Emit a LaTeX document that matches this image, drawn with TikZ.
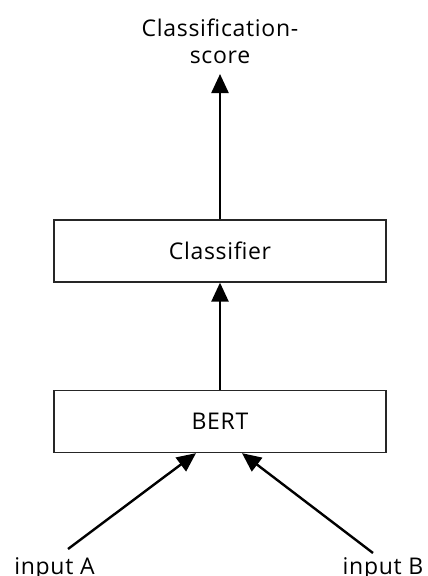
\documentclass[tikz,border=0pt]{standalone}
\usepackage{fontspec}
\setmainfont{Open Sans}[LetterSpace=3]
\usetikzlibrary{arrows.meta}
\begin{document}
\begin{tikzpicture}[x=1pt,y=-1pt,
  block/.style={draw=black!85, line width=1.3pt, minimum width=332pt, minimum height=62pt, inner sep=0pt, font=\fontsize{23}{27}\selectfont},
  lbl/.style={inner sep=0pt, font=\fontsize{23}{27}\selectfont, align=center},
  flow/.style={line width=2.4pt, -{Triangle[length=19pt,width=17pt]}}
]
\useasboundingbox (0,0) rectangle (428,576);
\node[block] (cls) at (220,251) {Classifier};
\node[block] (bert) at (220,421.5) {BERT};
\node[lbl] (score) at (220,41) {Classification-\\score};
\node[lbl, anchor=base] (ina) at (54.5,574) {input A};
\node[lbl, anchor=base] (inb) at (383,574) {input B};
\coordinate (sa) at (68,549);
\coordinate (sb) at (373,553);
\draw[flow] (cls.north) -- (220,74) coordinate (top);
\draw[flow] (bert.north) -- (cls.south);
\draw[flow] (sa) -- (bert.south -| 196,0);
\draw[flow] (sb) -- (bert.south -| 242,0);
\end{tikzpicture}
\end{document}
